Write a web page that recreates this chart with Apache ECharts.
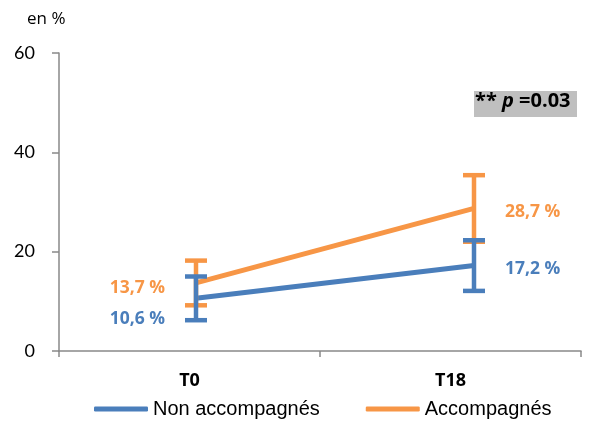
<!DOCTYPE html>
<html>
<head>
<meta charset="utf-8">
<script src="https://cdn.jsdelivr.net/npm/echarts@6/dist/echarts.min.js"></script>
<style>
  html, body { margin: 0; padding: 0; background: #fff; }
  #chart { width: 613px; height: 423px; }
</style>
</head>
<body>
<div id="chart"></div>
<script>
// Time points and mean share (%) per group, with error margins
const categories = ['T0', 'T18'];
const nonAccompagnes = [10.6, 17.2];
const accompagnes = [13.7, 28.7];
const nonAccompagnesErr = [4.4, 5.1];
const accompagnesErr = [4.5, 6.7];
const yTicks = [0, 20, 40, 60];
const seriesNames = ['Non accompagnés', 'Accompagnés'];

const BLUE = '#4A7EBB';
const ORANGE = '#F79646';
const AXIS = '#898989';

const fmt = v => String(v).replace('.', ',') + ' %';

// Per-point label placement (left of first point, right of last)
function labelled(values, offsets) {
  return values.map((v, i) => ({
    value: v,
    label: {
      position: i === 0 ? 'left' : 'right',
      distance: 30,
      offset: offsets[i]
    }
  }));
}

function errorData(values, errs) {
  return values.map((v, i) => [i, v - errs[i], v + errs[i]]);
}

function errorBar(color) {
  return function (params, api) {
    const i = api.value(0);
    const lo = api.coord([i, api.value(1)]);
    const hi = api.coord([i, api.value(2)]);
    const half = 11;
    const style = { stroke: color, lineWidth: 4.5 };
    return {
      type: 'group',
      children: [
        { type: 'line', shape: { x1: lo[0], y1: lo[1], x2: hi[0], y2: hi[1] }, style },
        { type: 'line', shape: { x1: hi[0] - half, y1: hi[1], x2: hi[0] + half, y2: hi[1] }, style },
        { type: 'line', shape: { x1: lo[0] - half, y1: lo[1], x2: lo[0] + half, y2: lo[1] }, style }
      ]
    };
  };
}

const chart = echarts.init(document.getElementById('chart'));

const labelFont = { fontFamily: 'Open Sans', fontWeight: 'bold', fontSize: 17.5 };

chart.setOption({
  animation: false,
  grid: [
    { left: 59, right: 32, top: 53, bottom: 72 },
    { left: 57, right: 0, top: 53, bottom: 72 }
  ],
  xAxis: [
    {
      type: 'category', gridIndex: 0, data: categories, boundaryGap: true,
      axisLine: { lineStyle: { color: AXIS, width: 1.5 } },
      axisTick: { show: true, length: 6, lineStyle: { color: AXIS, width: 1.5 } },
      axisLabel: { color: '#000', fontFamily: 'Open Sans', fontWeight: 'bold', fontSize: 18, margin: 21 }
    },
    { type: 'category', gridIndex: 1, data: categories, boundaryGap: true, show: false }
  ],
  yAxis: [
    {
      type: 'value', gridIndex: 0, min: yTicks[0], max: yTicks[yTicks.length - 1], interval: 20,
      axisLine: { show: true, lineStyle: { color: AXIS, width: 1.5 } },
      axisTick: { show: true, length: 7, lineStyle: { color: AXIS, width: 1.5 } },
      splitLine: { show: false },
      axisLabel: { color: '#000', fontFamily: 'Lato', fontSize: 18, margin: 24 }
    },
    { type: 'value', gridIndex: 1, min: yTicks[0], max: yTicks[yTicks.length - 1], show: false }
  ],
  legend: {
    left: 94, top: 399, padding: 0, itemWidth: 54, itemHeight: 5, itemGap: 46,
    icon: 'roundRect',
    data: seriesNames,
    textStyle: { fontFamily: 'Liberation Sans', fontSize: 20, color: '#000' }
  },
  series: [
    {
      name: seriesNames[1], type: 'line', xAxisIndex: 1, yAxisIndex: 1,
      data: labelled(accompagnes, [[0, 5], [0, 4]]),
      symbol: 'circle', symbolSize: 2,
      color: ORANGE,
      lineStyle: { width: 5, color: ORANGE },
      label: Object.assign({ show: true, color: ORANGE, formatter: p => fmt(p.value) }, labelFont),
      z: 2
    },
    {
      name: seriesNames[0], type: 'line', xAxisIndex: 1, yAxisIndex: 1,
      data: labelled(nonAccompagnes, [[0, 21], [0, 3]]),
      symbol: 'circle', symbolSize: 2,
      color: BLUE,
      lineStyle: { width: 5, color: BLUE },
      label: Object.assign({ show: true, color: BLUE, formatter: p => fmt(p.value) }, labelFont),
      z: 3
    },
    {
      type: 'custom', xAxisIndex: 1, yAxisIndex: 1,
      data: errorData(accompagnes, accompagnesErr),
      renderItem: errorBar(ORANGE), z: 4, silent: true
    },
    {
      type: 'custom', xAxisIndex: 1, yAxisIndex: 1,
      data: errorData(nonAccompagnes, nonAccompagnesErr),
      renderItem: errorBar(BLUE), z: 5, silent: true
    }
  ],
  graphic: [
    {
      type: 'text', left: 27, top: 11,
      style: { text: 'en %', fontFamily: 'Open Sans', fontSize: 17, fill: '#000' }
    },
    {
      type: 'rect', left: 474, top: 91,
      shape: { width: 103, height: 26 },
      style: { fill: '#BFBFBF' }
    },
    {
      type: 'text', left: 475, top: 91,
      style: {
        text: '{b|** }{i|p}{b| =0.03}',
        rich: {
          b: { fontFamily: 'Open Sans', fontWeight: 'bold', fontSize: 20, fill: '#000' },
          i: { fontFamily: 'Open Sans', fontWeight: 'bold', fontStyle: 'italic', fontSize: 20, fill: '#000' }
        }
      }
    }
  ]
});
</script>
</body>
</html>
